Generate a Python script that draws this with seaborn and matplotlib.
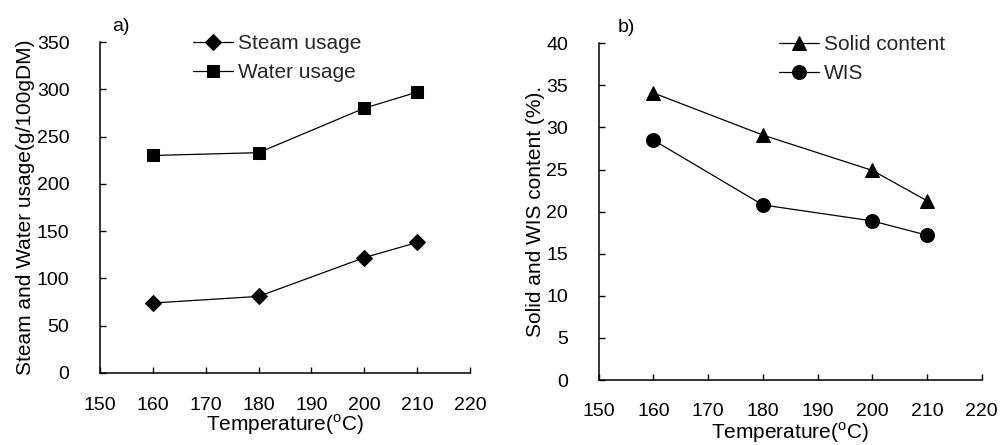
import matplotlib
matplotlib.use("Agg")
import matplotlib.pyplot as plt
import seaborn as sns
import pandas as pd

# Pretreatment temperatures (°C)
temperature = [160, 180, 200, 210]

# Panel a) steam and water usage (g/100 g DM)
steam_usage = [74, 81, 122, 138]
water_usage = [230, 233, 280, 297]

# Panel b) solid and WIS content (%)
solid_content = [34.1, 29.1, 24.9, 21.3]
wis_content = [28.5, 20.8, 18.9, 17.2]

x_ticks = [150, 160, 170, 180, 190, 200, 210, 220]
a_yticks = [0, 50, 100, 150, 200, 250, 300, 350]
b_yticks = [0, 5, 10, 15, 20, 25, 30, 35, 40]

TICK_FS = 14
LABEL_FS = 15

sns.set_theme(style="white")
plt.rcParams["font.family"] = ["Liberation Sans", "DejaVu Sans"]
plt.rcParams["mathtext.fontset"] = "custom"
plt.rcParams["mathtext.rm"] = "Liberation Sans"

fig = plt.figure(figsize=(10, 4.45), dpi=100)
ax_a = fig.add_axes([0.100, 0.1618, 0.370, 0.7438])
ax_b = fig.add_axes([0.5987, 0.146, 0.383, 0.7567])

df_a = pd.DataFrame({
    "Temperature": temperature * 2,
    "value": steam_usage + water_usage,
    "series": ["Steam usage"] * 4 + ["Water usage"] * 4,
})
df_b = pd.DataFrame({
    "Temperature": temperature * 2,
    "value": solid_content + wis_content,
    "series": ["Solid content"] * 4 + ["WIS"] * 4,
})

sns.lineplot(data=df_a, x="Temperature", y="value", hue="series", style="series",
             markers={"Steam usage": "D", "Water usage": "s"}, dashes=False,
             palette={"Steam usage": "black", "Water usage": "black"},
             markersize=8, linewidth=0.9, markeredgecolor="black", ax=ax_a)
sns.lineplot(data=df_b, x="Temperature", y="value", hue="series", style="series",
             markers={"Solid content": "^", "WIS": "o"}, dashes=False,
             palette={"Solid content": "black", "WIS": "black"},
             markersize=10, linewidth=0.9, markeredgecolor="black", ax=ax_b)

def style_axes(ax, yticks, ylabel, tag, tag_x, xpad, ylim, xlabelpad):
    ax.set_xlim(150, 220)
    ax.set_ylim(*ylim)
    ax.set_xticks(x_ticks)
    ax.set_yticks(yticks)
    for side in ("top", "right"):
        ax.spines[side].set_visible(False)
    for side in ("left", "bottom"):
        ax.spines[side].set_color("black")
        ax.spines[side].set_linewidth(1.1)
    ax.tick_params(axis="both", direction="in", length=4, width=1.0,
                   color="black", labelsize=TICK_FS, labelcolor="black")
    ax.tick_params(axis="x", pad=xpad, bottom=True)
    ax.tick_params(axis="y", pad=22, left=True)
    ax.set_xlabel("Temperature($^{\\mathrm{o}}$C)", fontsize=LABEL_FS, color="black",
                  labelpad=xlabelpad)
    ax.set_ylabel(ylabel, fontsize=LABEL_FS, color="black", labelpad=1)
    ax.text(tag_x, 1.048, tag, transform=ax.transAxes, fontsize=14, color="black",
            ha="left", va="center")
    ax.grid(False)

style_axes(ax_a, a_yticks, "Steam and Water usage(g/100gDM)", "a)", 0.032, 17, (0, 350), -1)
style_axes(ax_b, b_yticks, "Solid and WIS content (%).", "b)", 0.05, 16.5, (0, 40), 0)

legend_kw = dict(loc="upper left", frameon=False, fontsize=LABEL_FS, handlelength=1.9,
                 handletextpad=0.25, labelspacing=0.5, borderaxespad=0)
ax_a.legend(bbox_to_anchor=(0.229, 1.05), **legend_kw)
ax_b.legend(bbox_to_anchor=(0.45, 1.05), **legend_kw)

fig.savefig("out.png", dpi=100, facecolor="white")
